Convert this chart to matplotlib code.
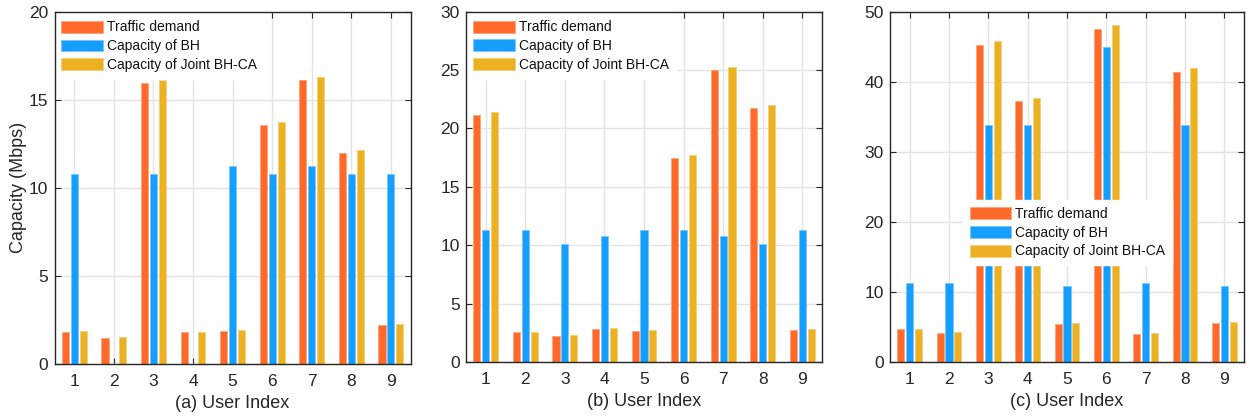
import matplotlib
matplotlib.use("Agg")
import matplotlib.pyplot as plt
import numpy as np

users = [1, 2, 3, 4, 5, 6, 7, 8, 9]
series_names = ["Traffic demand", "Capacity of BH", "Capacity of Joint BH-CA"]

# Panel (a)
a_traffic = [1.84, 1.49, 15.93, 1.82, 1.89, 13.57, 16.10, 11.98, 2.21]
a_bh = [10.79, 0.0, 10.79, 0.0, 11.24, 10.79, 11.24, 10.79, 10.79]
a_joint = [1.87, 1.51, 16.12, 1.84, 1.93, 13.74, 16.31, 12.13, 2.27]

# Panel (b)
b_traffic = [21.13, 2.56, 2.21, 2.81, 2.64, 17.51, 24.98, 21.76, 2.78]
b_bh = [11.28, 11.28, 10.11, 10.80, 11.28, 11.28, 10.80, 10.11, 11.28]
b_joint = [21.39, 2.61, 2.27, 2.87, 2.70, 17.71, 25.29, 22.02, 2.81]

# Panel (c)
c_traffic = [4.67, 4.19, 45.29, 37.29, 5.48, 47.48, 4.05, 41.38, 5.62]
c_bh = [11.29, 11.29, 33.76, 33.76, 10.86, 45.00, 11.29, 33.76, 10.86]
c_joint = [4.71, 4.24, 45.86, 37.71, 5.57, 48.05, 4.10, 41.90, 5.67]

xlabels = ["(a) User Index", "(b) User Index", "(c) User Index"]
ylims = [20, 30, 50]
yticks = [[0, 5, 10, 15, 20], [0, 5, 10, 15, 20, 25, 30], [0, 10, 20, 30, 40, 50]]

colors = ["#FF6A2A", "#149FFF", "#ECB023"]
edgecols = ["#FFA47D", "#79C6FF", "#F4CF77"]

plt.rcParams['font.family'] = ['Liberation Sans', 'DejaVu Sans']

fig = plt.figure(figsize=(12.48, 4.16), dpi=100)
W, H = 1248.0, 416.0
rects = [
    (54.5, 410.7, 11.7, 364.0),
    (466.0, 822.0, 11.7, 362.0),
    (890.0, 1244.0, 11.7, 362.0),
]
data = [
    (a_traffic, a_bh, a_joint),
    (b_traffic, b_bh, b_joint),
    (c_traffic, c_bh, c_joint),
]
legend_pos = [(0.0, 0.995), (0.0, 0.995), (0.205, 0.463)]

x = np.array(users, dtype=float)
offsets = [-0.225, 0.0, 0.225]
bw = 0.18
dark = "#262626"

for i, (l, r, t, b) in enumerate(rects):
    ax = fig.add_axes([l / W, 1 - b / H, (r - l) / W, (b - t) / H])
    handles = []
    for s in range(3):
        h = ax.bar(x + offsets[s], data[i][s], width=bw, color=colors[s],
                   edgecolor=edgecols[s], linewidth=0.6, label=series_names[s],
                   zorder=2)
        handles.append(h)
    ax.set_xlim(0.5, 9.5)
    ax.set_ylim(0, ylims[i])
    ax.set_xticks(users)
    ax.set_yticks(yticks[i])
    ax.grid(True, color="#E3E3E3", linewidth=1.0, zorder=0)
    ax.set_axisbelow(True)
    ax.tick_params(direction='in', top=True, right=True, length=4,
                   width=0.8, colors=dark, labelsize=12.5)
    ax.tick_params(axis='x', pad=7.5)
    ax.tick_params(axis='y', pad=4.5)
    for sp in ax.spines.values():
        sp.set_color(dark)
        sp.set_linewidth(1.0)
        sp.set_zorder(5)
    ax.set_xlabel(xlabels[i], fontsize=13, color=dark, labelpad=4)
    if i == 0:
        ax.set_ylabel("Capacity (Mbps)", fontsize=13, color=dark, labelpad=1.5)
    leg = ax.legend(handles=handles, loc='upper left',
                    bbox_to_anchor=legend_pos[i], borderaxespad=0.0,
                    fontsize=10, frameon=True, fancybox=False,
                    handlelength=3.0, handleheight=0.95, handletextpad=0.3,
                    labelspacing=0.35, borderpad=0.5)
    leg.get_frame().set_facecolor('white')
    leg.get_frame().set_edgecolor('white')
    leg.get_frame().set_alpha(1.0)
    leg.set_zorder(4)
    for txt in leg.get_texts():
        txt.set_color("#111111")

fig.savefig("out.png", dpi=100)
